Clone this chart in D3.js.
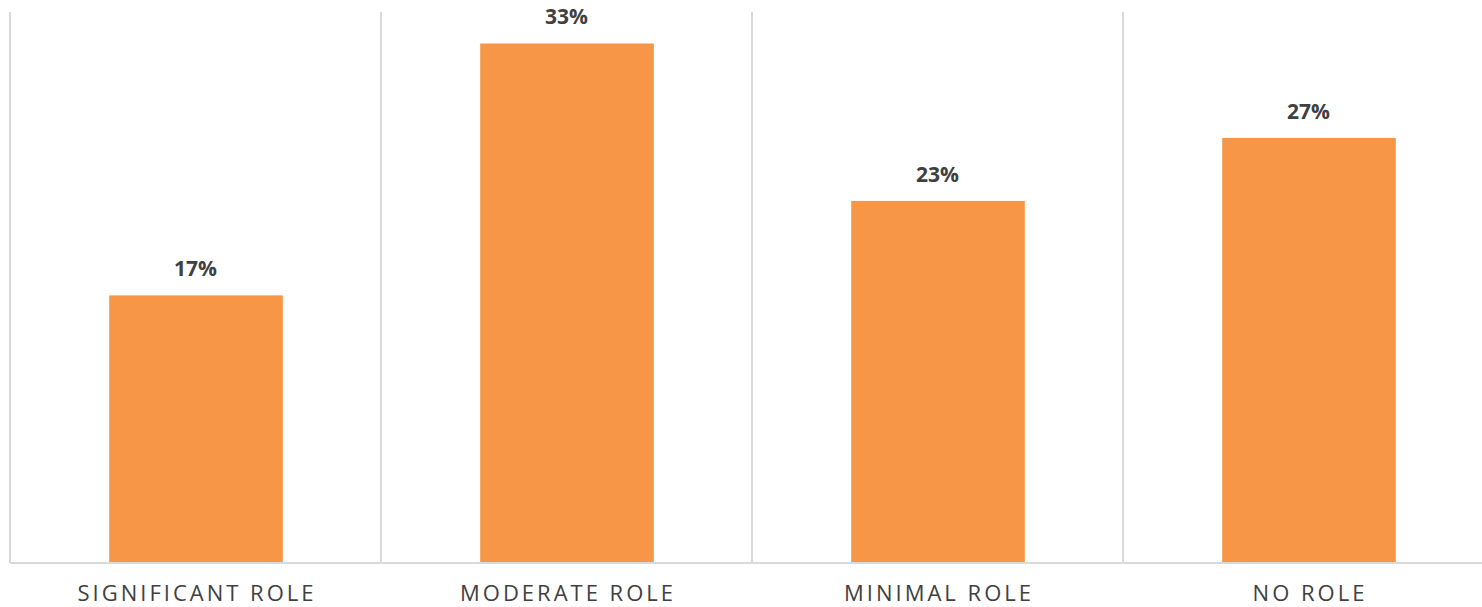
<!DOCTYPE html>
<html>
<head>
<meta charset="utf-8">
<script src="https://cdn.jsdelivr.net/npm/d3@7"></script>
<style>
  html, body { margin: 0; padding: 0; background: #ffffff; }
  svg { display: block; }
</style>
</head>
<body>
<svg id="chart" width="1482" height="607"></svg>
<script>
// Share of respondents by role
const categories = ["SIGNIFICANT ROLE", "MODERATE ROLE", "MINIMAL ROLE", "NO ROLE"];
const values = [17, 33, 23, 27];
const valueLabels = ["17%", "33%", "23%", "27%"];

const svg = d3.select("#chart");
const plot = { left: 10, right: 1494, top: 12, bottom: 563 };

const x = d3.scaleBand()
  .domain(categories)
  .range([plot.left, plot.right])
  .paddingInner(0)
  .paddingOuter(0);

const y = d3.scaleLinear()
  .domain([0, 35])
  .range([plot.bottom, plot.top]);

const barWidth = x.bandwidth() * 0.468;

// vertical separators between categories
svg.append("g")
  .selectAll("line")
  .data(categories)
  .join("line")
  .attr("x1", d => x(d))
  .attr("x2", d => x(d))
  .attr("y1", plot.top)
  .attr("y2", plot.bottom)
  .attr("stroke", "#d9d9d9")
  .attr("stroke-width", 2);

// bars
svg.append("g")
  .selectAll("rect")
  .data(values)
  .join("rect")
  .attr("x", (d, i) => x(categories[i]) + (x.bandwidth() - barWidth) / 2 + 0.5)
  .attr("y", d => y(d))
  .attr("width", barWidth)
  .attr("height", d => y(0) - y(d))
  .attr("fill", "#f79646");

// baseline
svg.append("line")
  .attr("x1", plot.left)
  .attr("x2", plot.right)
  .attr("y1", y(0))
  .attr("y2", y(0))
  .attr("stroke", "#d9d9d9")
  .attr("stroke-width", 2);

// value labels
svg.append("g")
  .selectAll("text")
  .data(values)
  .join("text")
  .attr("x", (d, i) => x(categories[i]) + x.bandwidth() / 2)
  .attr("y", d => y(d) - 19)
  .attr("text-anchor", "middle")
  .attr("font-family", "'Open Sans', sans-serif")
  .attr("font-weight", 700)
  .attr("font-size", 21)
  .attr("fill", "#404040")
  .text((d, i) => valueLabels[i]);

// category labels
svg.append("g")
  .selectAll("text")
  .data(categories)
  .join("text")
  .attr("x", d => x(d) + x.bandwidth() / 2 + 1.5)
  .attr("y", 601)
  .attr("text-anchor", "middle")
  .attr("font-family", "'Open Sans', sans-serif")
  .attr("font-size", 22)
  .attr("letter-spacing", 3)
  .attr("fill", "#404040")
  .text(d => d);
</script>
</body>
</html>
